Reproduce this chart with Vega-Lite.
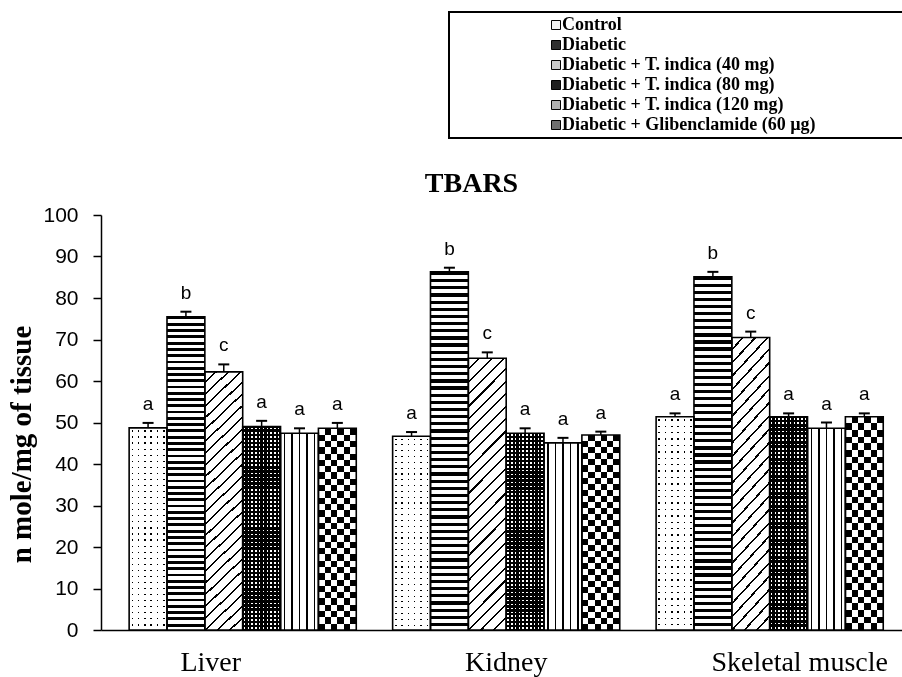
{
  "$schema": "https://vega.github.io/schema/vega-lite/v6.json",
  "width": 801,
  "height": 415,
  "autosize": "none",
  "padding": {"left": 101, "top": 215, "right": 0, "bottom": 47},
  "background": "white",
  "title": {
    "text": "TBARS",
    "font": "Liberation Serif",
    "fontSize": 28,
    "fontWeight": "bold",
    "color": "black",
    "anchor": "middle",
    "frame": "group",
    "offset": 22,
    "baseline": "alphabetic",
    "dx": -30,
    "dy": 231
  },
  "data": {
    "values": [
      {"tissue": "Liver", "group": "Control", "mean": 48.7, "upper": 49.9, "letter": "a"},
      {"tissue": "Liver", "group": "Diabetic", "mean": 75.5, "upper": 76.7, "letter": "b"},
      {"tissue": "Liver", "group": "Diabetic + T. indica (40 mg)", "mean": 62.2, "upper": 64.0, "letter": "c"},
      {"tissue": "Liver", "group": "Diabetic + T. indica (80 mg)", "mean": 49.0, "upper": 50.4, "letter": "a"},
      {"tissue": "Liver", "group": "Diabetic + T. indica (120 mg)", "mean": 47.4, "upper": 48.6, "letter": "a"},
      {"tissue": "Liver", "group": "Diabetic + Glibenclamide (60 µg)", "mean": 48.6, "upper": 49.9, "letter": "a"},
      {"tissue": "Kidney", "group": "Control", "mean": 46.7, "upper": 47.7, "letter": "a"},
      {"tissue": "Kidney", "group": "Diabetic", "mean": 86.3, "upper": 87.3, "letter": "b"},
      {"tissue": "Kidney", "group": "Diabetic + T. indica (40 mg)", "mean": 65.5, "upper": 66.9, "letter": "c"},
      {"tissue": "Kidney", "group": "Diabetic + T. indica (80 mg)", "mean": 47.4, "upper": 48.6, "letter": "a"},
      {"tissue": "Kidney", "group": "Diabetic + T. indica (120 mg)", "mean": 45.1, "upper": 46.3, "letter": "a"},
      {"tissue": "Kidney", "group": "Diabetic + Glibenclamide (60 µg)", "mean": 47.0, "upper": 47.8, "letter": "a"},
      {"tissue": "Skeletal muscle", "group": "Control", "mean": 51.4, "upper": 52.2, "letter": "a"},
      {"tissue": "Skeletal muscle", "group": "Diabetic", "mean": 85.1, "upper": 86.3, "letter": "b"},
      {"tissue": "Skeletal muscle", "group": "Diabetic + T. indica (40 mg)", "mean": 70.5, "upper": 71.9, "letter": "c"},
      {"tissue": "Skeletal muscle", "group": "Diabetic + T. indica (80 mg)", "mean": 51.4, "upper": 52.2, "letter": "a"},
      {"tissue": "Skeletal muscle", "group": "Diabetic + T. indica (120 mg)", "mean": 48.6, "upper": 50.0, "letter": "a"},
      {"tissue": "Skeletal muscle", "group": "Diabetic + Glibenclamide (60 µg)", "mean": 51.4, "upper": 52.2, "letter": "a"}
    ]
  },
  "encoding": {
    "x": {
      "field": "tissue",
      "type": "nominal",
      "sort": ["Liver", "Kidney", "Skeletal muscle"],
      "scale": {"paddingInner": 0.138, "paddingOuter": 0.089, "align": 0.6},
      "axis": {
        "title": null,
        "labelAngle": 0,
        "labelFont": "Liberation Serif",
        "labelFontSize": 28,
        "labelColor": "black",
        "labelBaseline": "top",
        "labelPadding": 18,
        "ticks": false,
        "tickSize": 0,
        "domainColor": "black",
        "domainWidth": 1.5,
        "labelOffset": {
          "condition": [
            {"test": "datum.value === 'Liver'", "value": -32},
            {"test": "datum.value === 'Skeletal muscle'", "value": 30}
          ],
          "value": 0
        }
      }
    },
    "xOffset": {
      "field": "group",
      "type": "nominal",
      "scale": {
        "domain": ["Control", "Diabetic", "Diabetic + T. indica (40 mg)", "Diabetic + T. indica (80 mg)", "Diabetic + T. indica (120 mg)", "Diabetic + Glibenclamide (60 µg)"],
        "paddingInner": 0,
        "paddingOuter": 0
      }
    },
    "y": {
      "field": "mean",
      "type": "quantitative",
      "scale": {"domain": [0, 100]},
      "title": "n mole/mg of tissue",
      "axis": {
        "values": [0, 10, 20, 30, 40, 50, 60, 70, 80, 90, 100],
        "grid": false,
        "domainColor": "black",
        "domainWidth": 1.5,
        "tickColor": "black",
        "tickWidth": 1.5,
        "tickSize": 8,
        "labelFont": "Liberation Sans",
        "labelFontSize": 21,
        "labelColor": "black",
        "labelPadding": 15,
        "titleFont": "Liberation Serif",
        "titleFontSize": 29,
        "titleFontWeight": "bold",
        "titleColor": "black",
        "titleX": -71,
        "titleY": 229,
        "titleBaseline": "alphabetic"
      }
    }
  },
  "layer": [
    {
      "mark": {"type": "bar"},
      "encoding": {
        "color": {
          "field": "group",
          "type": "nominal",
          "scale": {
            "domain": ["Control", "Diabetic", "Diabetic + T. indica (40 mg)", "Diabetic + T. indica (80 mg)", "Diabetic + T. indica (120 mg)", "Diabetic + Glibenclamide (60 µg)"],
            "range": ["#f0f0f0", "#303030", "#c8c8c8", "#202020", "#b0b0b0", "#707070"]
          },
          "legend": {
            "orient": "none",
            "legendX": 348,
            "legendY": -203,
            "direction": "vertical",
            "title": " ",
            "titleOrient": "left",
            "titleFontSize": 1,
            "titlePadding": 94,
            "labelFont": "Liberation Serif",
            "labelFontWeight": "bold",
            "labelFontSize": 18,
            "labelColor": "black",
            "labelLimit": 700,
            "labelOffset": -3,
            "labelExpr": "datum.label + '\u00a0\u00a0\u00a0\u00a0\u00a0\u00a0\u00a0\u00a0\u00a0\u00a0\u00a0\u00a0\u00a0\u00a0\u00a0\u00a0\u00a0\u00a0\u2009\u200b'",
            "symbolType": "square",
            "symbolSize": 81,
            "symbolStrokeColor": "black",
            "symbolStrokeWidth": 1,
            "rowPadding": 2,
            "padding": 4,
            "strokeColor": "black"
          }
        }
      }
    },
    {
      "transform": [{"filter": "datum.group === 'Control'"}],
      "mark": {
        "type": "bar",
        "fill": {
          "gradient": "linear", "x1": 0, "y1": 0, "x2": 1, "y2": 0,
          "stops": [{"offset":0,"color":"#fff"},{"offset":0.063,"color":"#fff"},{"offset":0.063,"color":"#000"},{"offset":0.103,"color":"#000"},{"offset":0.103,"color":"#fff"},{"offset":0.23,"color":"#fff"},{"offset":0.23,"color":"#000"},{"offset":0.27,"color":"#000"},{"offset":0.27,"color":"#fff"},{"offset":0.397,"color":"#fff"},{"offset":0.397,"color":"#000"},{"offset":0.437,"color":"#000"},{"offset":0.437,"color":"#fff"},{"offset":0.563,"color":"#fff"},{"offset":0.563,"color":"#000"},{"offset":0.603,"color":"#000"},{"offset":0.603,"color":"#fff"},{"offset":0.73,"color":"#fff"},{"offset":0.73,"color":"#000"},{"offset":0.77,"color":"#000"},{"offset":0.77,"color":"#fff"},{"offset":0.897,"color":"#fff"},{"offset":0.897,"color":"#000"},{"offset":0.937,"color":"#000"},{"offset":0.937,"color":"#fff"},{"offset":1,"color":"#fff"}]
        }
      }
    },
    {
      "transform": [{"filter": "datum.group === 'Control'"}],
      "mark": {
        "type": "bar",
        "blend": "lighten",
        "fill": {
          "gradient": "linear", "x1": 0, "y1": 0, "x2": 0, "y2": 1,
          "stops": [{"offset":0,"color":"#fff"},
{"offset":0.012,"color":"#fff"},{"offset":0.012,"color":"#000"},{"offset":0.018,"color":"#000"},{"offset":0.018,"color":"#fff"},
{"offset":0.042,"color":"#fff"},{"offset":0.042,"color":"#000"},{"offset":0.048,"color":"#000"},{"offset":0.048,"color":"#fff"},
{"offset":0.072,"color":"#fff"},{"offset":0.072,"color":"#000"},{"offset":0.078,"color":"#000"},{"offset":0.078,"color":"#fff"},
{"offset":0.102,"color":"#fff"},{"offset":0.102,"color":"#000"},{"offset":0.108,"color":"#000"},{"offset":0.108,"color":"#fff"},
{"offset":0.132,"color":"#fff"},{"offset":0.132,"color":"#000"},{"offset":0.138,"color":"#000"},{"offset":0.138,"color":"#fff"},
{"offset":0.162,"color":"#fff"},{"offset":0.162,"color":"#000"},{"offset":0.168,"color":"#000"},{"offset":0.168,"color":"#fff"},
{"offset":0.192,"color":"#fff"},{"offset":0.192,"color":"#000"},{"offset":0.198,"color":"#000"},{"offset":0.198,"color":"#fff"},
{"offset":0.222,"color":"#fff"},{"offset":0.222,"color":"#000"},{"offset":0.228,"color":"#000"},{"offset":0.228,"color":"#fff"},
{"offset":0.252,"color":"#fff"},{"offset":0.252,"color":"#000"},{"offset":0.258,"color":"#000"},{"offset":0.258,"color":"#fff"},
{"offset":0.282,"color":"#fff"},{"offset":0.282,"color":"#000"},{"offset":0.288,"color":"#000"},{"offset":0.288,"color":"#fff"},
{"offset":0.312,"color":"#fff"},{"offset":0.312,"color":"#000"},{"offset":0.318,"color":"#000"},{"offset":0.318,"color":"#fff"},
{"offset":0.342,"color":"#fff"},{"offset":0.342,"color":"#000"},{"offset":0.348,"color":"#000"},{"offset":0.348,"color":"#fff"},
{"offset":0.372,"color":"#fff"},{"offset":0.372,"color":"#000"},{"offset":0.378,"color":"#000"},{"offset":0.378,"color":"#fff"},
{"offset":0.402,"color":"#fff"},{"offset":0.402,"color":"#000"},{"offset":0.408,"color":"#000"},{"offset":0.408,"color":"#fff"},
{"offset":0.432,"color":"#fff"},{"offset":0.432,"color":"#000"},{"offset":0.438,"color":"#000"},{"offset":0.438,"color":"#fff"},
{"offset":0.462,"color":"#fff"},{"offset":0.462,"color":"#000"},{"offset":0.468,"color":"#000"},{"offset":0.468,"color":"#fff"},
{"offset":0.492,"color":"#fff"},{"offset":0.492,"color":"#000"},{"offset":0.498,"color":"#000"},{"offset":0.498,"color":"#fff"},
{"offset":0.522,"color":"#fff"},{"offset":0.522,"color":"#000"},{"offset":0.528,"color":"#000"},{"offset":0.528,"color":"#fff"},
{"offset":0.552,"color":"#fff"},{"offset":0.552,"color":"#000"},{"offset":0.558,"color":"#000"},{"offset":0.558,"color":"#fff"},
{"offset":0.582,"color":"#fff"},{"offset":0.582,"color":"#000"},{"offset":0.588,"color":"#000"},{"offset":0.588,"color":"#fff"},
{"offset":0.612,"color":"#fff"},{"offset":0.612,"color":"#000"},{"offset":0.618,"color":"#000"},{"offset":0.618,"color":"#fff"},
{"offset":0.642,"color":"#fff"},{"offset":0.642,"color":"#000"},{"offset":0.648,"color":"#000"},{"offset":0.648,"color":"#fff"},
{"offset":0.672,"color":"#fff"},{"offset":0.672,"color":"#000"},{"offset":0.678,"color":"#000"},{"offset":0.678,"color":"#fff"},
{"offset":0.702,"color":"#fff"},{"offset":0.702,"color":"#000"},{"offset":0.708,"color":"#000"},{"offset":0.708,"color":"#fff"},
{"offset":0.732,"color":"#fff"},{"offset":0.732,"color":"#000"},{"offset":0.738,"color":"#000"},{"offset":0.738,"color":"#fff"},
{"offset":0.762,"color":"#fff"},{"offset":0.762,"color":"#000"},{"offset":0.768,"color":"#000"},{"offset":0.768,"color":"#fff"},
{"offset":0.792,"color":"#fff"},{"offset":0.792,"color":"#000"},{"offset":0.798,"color":"#000"},{"offset":0.798,"color":"#fff"},
{"offset":0.822,"color":"#fff"},{"offset":0.822,"color":"#000"},{"offset":0.828,"color":"#000"},{"offset":0.828,"color":"#fff"},
{"offset":0.852,"color":"#fff"},{"offset":0.852,"color":"#000"},{"offset":0.858,"color":"#000"},{"offset":0.858,"color":"#fff"},
{"offset":0.882,"color":"#fff"},{"offset":0.882,"color":"#000"},{"offset":0.888,"color":"#000"},{"offset":0.888,"color":"#fff"},
{"offset":0.912,"color":"#fff"},{"offset":0.912,"color":"#000"},{"offset":0.918,"color":"#000"},{"offset":0.918,"color":"#fff"},
{"offset":0.942,"color":"#fff"},{"offset":0.942,"color":"#000"},{"offset":0.948,"color":"#000"},{"offset":0.948,"color":"#fff"},
{"offset":0.972,"color":"#fff"},{"offset":0.972,"color":"#000"},{"offset":0.978,"color":"#000"},{"offset":0.978,"color":"#fff"},
{"offset":1,"color":"#fff"}]
        }
      }
    },
    {
      "transform": [{"filter": "datum.group === 'Diabetic'"}],
      "mark": {
        "type": "bar",
        "fill": {
          "gradient": "linear", "x1": 0, "y1": 0, "x2": 0, "y2": 1,
          "stops": [
{"offset":0,"color":"#000"},{"offset":0.009,"color":"#000"},{"offset":0.009,"color":"#fff"},{"offset":0.02,"color":"#fff"},
{"offset":0.02,"color":"#000"},{"offset":0.029,"color":"#000"},{"offset":0.029,"color":"#fff"},{"offset":0.04,"color":"#fff"},
{"offset":0.04,"color":"#000"},{"offset":0.049,"color":"#000"},{"offset":0.049,"color":"#fff"},{"offset":0.06,"color":"#fff"},
{"offset":0.06,"color":"#000"},{"offset":0.069,"color":"#000"},{"offset":0.069,"color":"#fff"},{"offset":0.08,"color":"#fff"},
{"offset":0.08,"color":"#000"},{"offset":0.089,"color":"#000"},{"offset":0.089,"color":"#fff"},{"offset":0.1,"color":"#fff"},
{"offset":0.1,"color":"#000"},{"offset":0.109,"color":"#000"},{"offset":0.109,"color":"#fff"},{"offset":0.12,"color":"#fff"},
{"offset":0.12,"color":"#000"},{"offset":0.129,"color":"#000"},{"offset":0.129,"color":"#fff"},{"offset":0.14,"color":"#fff"},
{"offset":0.14,"color":"#000"},{"offset":0.149,"color":"#000"},{"offset":0.149,"color":"#fff"},{"offset":0.16,"color":"#fff"},
{"offset":0.16,"color":"#000"},{"offset":0.169,"color":"#000"},{"offset":0.169,"color":"#fff"},{"offset":0.18,"color":"#fff"},
{"offset":0.18,"color":"#000"},{"offset":0.189,"color":"#000"},{"offset":0.189,"color":"#fff"},{"offset":0.2,"color":"#fff"},
{"offset":0.2,"color":"#000"},{"offset":0.209,"color":"#000"},{"offset":0.209,"color":"#fff"},{"offset":0.22,"color":"#fff"},
{"offset":0.22,"color":"#000"},{"offset":0.229,"color":"#000"},{"offset":0.229,"color":"#fff"},{"offset":0.24,"color":"#fff"},
{"offset":0.24,"color":"#000"},{"offset":0.249,"color":"#000"},{"offset":0.249,"color":"#fff"},{"offset":0.26,"color":"#fff"},
{"offset":0.26,"color":"#000"},{"offset":0.269,"color":"#000"},{"offset":0.269,"color":"#fff"},{"offset":0.28,"color":"#fff"},
{"offset":0.28,"color":"#000"},{"offset":0.289,"color":"#000"},{"offset":0.289,"color":"#fff"},{"offset":0.3,"color":"#fff"},
{"offset":0.3,"color":"#000"},{"offset":0.309,"color":"#000"},{"offset":0.309,"color":"#fff"},{"offset":0.32,"color":"#fff"},
{"offset":0.32,"color":"#000"},{"offset":0.329,"color":"#000"},{"offset":0.329,"color":"#fff"},{"offset":0.34,"color":"#fff"},
{"offset":0.34,"color":"#000"},{"offset":0.349,"color":"#000"},{"offset":0.349,"color":"#fff"},{"offset":0.36,"color":"#fff"},
{"offset":0.36,"color":"#000"},{"offset":0.369,"color":"#000"},{"offset":0.369,"color":"#fff"},{"offset":0.38,"color":"#fff"},
{"offset":0.38,"color":"#000"},{"offset":0.389,"color":"#000"},{"offset":0.389,"color":"#fff"},{"offset":0.4,"color":"#fff"},
{"offset":0.4,"color":"#000"},{"offset":0.409,"color":"#000"},{"offset":0.409,"color":"#fff"},{"offset":0.42,"color":"#fff"},
{"offset":0.42,"color":"#000"},{"offset":0.429,"color":"#000"},{"offset":0.429,"color":"#fff"},{"offset":0.44,"color":"#fff"},
{"offset":0.44,"color":"#000"},{"offset":0.449,"color":"#000"},{"offset":0.449,"color":"#fff"},{"offset":0.46,"color":"#fff"},
{"offset":0.46,"color":"#000"},{"offset":0.469,"color":"#000"},{"offset":0.469,"color":"#fff"},{"offset":0.48,"color":"#fff"},
{"offset":0.48,"color":"#000"},{"offset":0.489,"color":"#000"},{"offset":0.489,"color":"#fff"},{"offset":0.5,"color":"#fff"},
{"offset":0.5,"color":"#000"},{"offset":0.509,"color":"#000"},{"offset":0.509,"color":"#fff"},{"offset":0.52,"color":"#fff"},
{"offset":0.52,"color":"#000"},{"offset":0.529,"color":"#000"},{"offset":0.529,"color":"#fff"},{"offset":0.54,"color":"#fff"},
{"offset":0.54,"color":"#000"},{"offset":0.549,"color":"#000"},{"offset":0.549,"color":"#fff"},{"offset":0.56,"color":"#fff"},
{"offset":0.56,"color":"#000"},{"offset":0.569,"color":"#000"},{"offset":0.569,"color":"#fff"},{"offset":0.58,"color":"#fff"},
{"offset":0.58,"color":"#000"},{"offset":0.589,"color":"#000"},{"offset":0.589,"color":"#fff"},{"offset":0.6,"color":"#fff"},
{"offset":0.6,"color":"#000"},{"offset":0.609,"color":"#000"},{"offset":0.609,"color":"#fff"},{"offset":0.62,"color":"#fff"},
{"offset":0.62,"color":"#000"},{"offset":0.629,"color":"#000"},{"offset":0.629,"color":"#fff"},{"offset":0.64,"color":"#fff"},
{"offset":0.64,"color":"#000"},{"offset":0.649,"color":"#000"},{"offset":0.649,"color":"#fff"},{"offset":0.66,"color":"#fff"},
{"offset":0.66,"color":"#000"},{"offset":0.669,"color":"#000"},{"offset":0.669,"color":"#fff"},{"offset":0.68,"color":"#fff"},
{"offset":0.68,"color":"#000"},{"offset":0.689,"color":"#000"},{"offset":0.689,"color":"#fff"},{"offset":0.7,"color":"#fff"},
{"offset":0.7,"color":"#000"},{"offset":0.709,"color":"#000"},{"offset":0.709,"color":"#fff"},{"offset":0.72,"color":"#fff"},
{"offset":0.72,"color":"#000"},{"offset":0.729,"color":"#000"},{"offset":0.729,"color":"#fff"},{"offset":0.74,"color":"#fff"},
{"offset":0.74,"color":"#000"},{"offset":0.749,"color":"#000"},{"offset":0.749,"color":"#fff"},{"offset":0.76,"color":"#fff"},
{"offset":0.76,"color":"#000"},{"offset":0.769,"color":"#000"},{"offset":0.769,"color":"#fff"},{"offset":0.78,"color":"#fff"},
{"offset":0.78,"color":"#000"},{"offset":0.789,"color":"#000"},{"offset":0.789,"color":"#fff"},{"offset":0.8,"color":"#fff"},
{"offset":0.8,"color":"#000"},{"offset":0.809,"color":"#000"},{"offset":0.809,"color":"#fff"},{"offset":0.82,"color":"#fff"},
{"offset":0.82,"color":"#000"},{"offset":0.829,"color":"#000"},{"offset":0.829,"color":"#fff"},{"offset":0.84,"color":"#fff"},
{"offset":0.84,"color":"#000"},{"offset":0.849,"color":"#000"},{"offset":0.849,"color":"#fff"},{"offset":0.86,"color":"#fff"},
{"offset":0.86,"color":"#000"},{"offset":0.869,"color":"#000"},{"offset":0.869,"color":"#fff"},{"offset":0.88,"color":"#fff"},
{"offset":0.88,"color":"#000"},{"offset":0.889,"color":"#000"},{"offset":0.889,"color":"#fff"},{"offset":0.9,"color":"#fff"},
{"offset":0.9,"color":"#000"},{"offset":0.909,"color":"#000"},{"offset":0.909,"color":"#fff"},{"offset":0.92,"color":"#fff"},
{"offset":0.92,"color":"#000"},{"offset":0.929,"color":"#000"},{"offset":0.929,"color":"#fff"},{"offset":0.94,"color":"#fff"},
{"offset":0.94,"color":"#000"},{"offset":0.949,"color":"#000"},{"offset":0.949,"color":"#fff"},{"offset":0.96,"color":"#fff"},
{"offset":0.96,"color":"#000"},{"offset":0.969,"color":"#000"},{"offset":0.969,"color":"#fff"},{"offset":0.98,"color":"#fff"},
{"offset":0.98,"color":"#000"},{"offset":0.989,"color":"#000"},{"offset":0.989,"color":"#fff"},{"offset":1,"color":"#fff"}]
        }
      }
    },
    {
      "transform": [{"filter": "datum.group === 'Diabetic + T. indica (40 mg)'"}],
      "mark": {
        "type": "bar",
        "fill": {
          "gradient": "linear", "x1": 0, "y1": 0, "x2": 0.157, "y2": 1.12,
          "stops": [
{"offset":0,"color":"#fff"},{"offset":0.033,"color":"#fff"},{"offset":0.033,"color":"#000"},{"offset":0.04,"color":"#000"},
{"offset":0.04,"color":"#fff"},{"offset":0.073,"color":"#fff"},{"offset":0.073,"color":"#000"},{"offset":0.08,"color":"#000"},
{"offset":0.08,"color":"#fff"},{"offset":0.113,"color":"#fff"},{"offset":0.113,"color":"#000"},{"offset":0.12,"color":"#000"},
{"offset":0.12,"color":"#fff"},{"offset":0.153,"color":"#fff"},{"offset":0.153,"color":"#000"},{"offset":0.16,"color":"#000"},
{"offset":0.16,"color":"#fff"},{"offset":0.193,"color":"#fff"},{"offset":0.193,"color":"#000"},{"offset":0.2,"color":"#000"},
{"offset":0.2,"color":"#fff"},{"offset":0.233,"color":"#fff"},{"offset":0.233,"color":"#000"},{"offset":0.24,"color":"#000"},
{"offset":0.24,"color":"#fff"},{"offset":0.273,"color":"#fff"},{"offset":0.273,"color":"#000"},{"offset":0.28,"color":"#000"},
{"offset":0.28,"color":"#fff"},{"offset":0.313,"color":"#fff"},{"offset":0.313,"color":"#000"},{"offset":0.32,"color":"#000"},
{"offset":0.32,"color":"#fff"},{"offset":0.353,"color":"#fff"},{"offset":0.353,"color":"#000"},{"offset":0.36,"color":"#000"},
{"offset":0.36,"color":"#fff"},{"offset":0.393,"color":"#fff"},{"offset":0.393,"color":"#000"},{"offset":0.4,"color":"#000"},
{"offset":0.4,"color":"#fff"},{"offset":0.433,"color":"#fff"},{"offset":0.433,"color":"#000"},{"offset":0.44,"color":"#000"},
{"offset":0.44,"color":"#fff"},{"offset":0.473,"color":"#fff"},{"offset":0.473,"color":"#000"},{"offset":0.48,"color":"#000"},
{"offset":0.48,"color":"#fff"},{"offset":0.513,"color":"#fff"},{"offset":0.513,"color":"#000"},{"offset":0.52,"color":"#000"},
{"offset":0.52,"color":"#fff"},{"offset":0.553,"color":"#fff"},{"offset":0.553,"color":"#000"},{"offset":0.56,"color":"#000"},
{"offset":0.56,"color":"#fff"},{"offset":0.593,"color":"#fff"},{"offset":0.593,"color":"#000"},{"offset":0.6,"color":"#000"},
{"offset":0.6,"color":"#fff"},{"offset":0.633,"color":"#fff"},{"offset":0.633,"color":"#000"},{"offset":0.64,"color":"#000"},
{"offset":0.64,"color":"#fff"},{"offset":0.673,"color":"#fff"},{"offset":0.673,"color":"#000"},{"offset":0.68,"color":"#000"},
{"offset":0.68,"color":"#fff"},{"offset":0.713,"color":"#fff"},{"offset":0.713,"color":"#000"},{"offset":0.72,"color":"#000"},
{"offset":0.72,"color":"#fff"},{"offset":0.753,"color":"#fff"},{"offset":0.753,"color":"#000"},{"offset":0.76,"color":"#000"},
{"offset":0.76,"color":"#fff"},{"offset":0.793,"color":"#fff"},{"offset":0.793,"color":"#000"},{"offset":0.8,"color":"#000"},
{"offset":0.8,"color":"#fff"},{"offset":0.833,"color":"#fff"},{"offset":0.833,"color":"#000"},{"offset":0.84,"color":"#000"},
{"offset":0.84,"color":"#fff"},{"offset":0.873,"color":"#fff"},{"offset":0.873,"color":"#000"},{"offset":0.88,"color":"#000"},
{"offset":0.88,"color":"#fff"},{"offset":0.913,"color":"#fff"},{"offset":0.913,"color":"#000"},{"offset":0.92,"color":"#000"},
{"offset":0.92,"color":"#fff"},{"offset":0.953,"color":"#fff"},{"offset":0.953,"color":"#000"},{"offset":0.96,"color":"#000"},
{"offset":0.96,"color":"#fff"},{"offset":0.993,"color":"#fff"},{"offset":0.993,"color":"#000"},{"offset":1,"color":"#000"}]
        }
      }
    },
    {
      "transform": [{"filter": "datum.group === 'Diabetic + T. indica (80 mg)'"}],
      "mark": {
        "type": "bar",
        "fill": {
          "gradient": "linear", "x1": 0, "y1": 0, "x2": 1, "y2": 0,
          "stops": [{"offset":0,"color":"#000"},
{"offset":0.03,"color":"#000"},{"offset":0.03,"color":"#fff"},{"offset":0.07,"color":"#fff"},{"offset":0.07,"color":"#000"},
{"offset":0.13,"color":"#000"},{"offset":0.13,"color":"#fff"},{"offset":0.17,"color":"#fff"},{"offset":0.17,"color":"#000"},
{"offset":0.23,"color":"#000"},{"offset":0.23,"color":"#fff"},{"offset":0.27,"color":"#fff"},{"offset":0.27,"color":"#000"},
{"offset":0.33,"color":"#000"},{"offset":0.33,"color":"#fff"},{"offset":0.37,"color":"#fff"},{"offset":0.37,"color":"#000"},
{"offset":0.43,"color":"#000"},{"offset":0.43,"color":"#fff"},{"offset":0.47,"color":"#fff"},{"offset":0.47,"color":"#000"},
{"offset":0.53,"color":"#000"},{"offset":0.53,"color":"#fff"},{"offset":0.57,"color":"#fff"},{"offset":0.57,"color":"#000"},
{"offset":0.63,"color":"#000"},{"offset":0.63,"color":"#fff"},{"offset":0.67,"color":"#fff"},{"offset":0.67,"color":"#000"},
{"offset":0.73,"color":"#000"},{"offset":0.73,"color":"#fff"},{"offset":0.77,"color":"#fff"},{"offset":0.77,"color":"#000"},
{"offset":0.83,"color":"#000"},{"offset":0.83,"color":"#fff"},{"offset":0.87,"color":"#fff"},{"offset":0.87,"color":"#000"},
{"offset":0.93,"color":"#000"},{"offset":0.93,"color":"#fff"},{"offset":0.97,"color":"#fff"},{"offset":0.97,"color":"#000"},
{"offset":1,"color":"#000"}]
        }
      }
    },
    {
      "transform": [{"filter": "datum.group === 'Diabetic + T. indica (80 mg)'"}],
      "mark": {
        "type": "bar",
        "blend": "darken",
        "fill": {
          "gradient": "linear", "x1": 0, "y1": 0, "x2": 0, "y2": 1,
          "stops": [{"offset":0,"color":"#000"},
{"offset":0.006,"color":"#000"},{"offset":0.006,"color":"#fff"},{"offset":0.014,"color":"#fff"},{"offset":0.014,"color":"#000"},
{"offset":0.026,"color":"#000"},{"offset":0.026,"color":"#fff"},{"offset":0.034,"color":"#fff"},{"offset":0.034,"color":"#000"},
{"offset":0.046,"color":"#000"},{"offset":0.046,"color":"#fff"},{"offset":0.054,"color":"#fff"},{"offset":0.054,"color":"#000"},
{"offset":0.066,"color":"#000"},{"offset":0.066,"color":"#fff"},{"offset":0.074,"color":"#fff"},{"offset":0.074,"color":"#000"},
{"offset":0.086,"color":"#000"},{"offset":0.086,"color":"#fff"},{"offset":0.094,"color":"#fff"},{"offset":0.094,"color":"#000"},
{"offset":0.106,"color":"#000"},{"offset":0.106,"color":"#fff"},{"offset":0.114,"color":"#fff"},{"offset":0.114,"color":"#000"},
{"offset":0.126,"color":"#000"},{"offset":0.126,"color":"#fff"},{"offset":0.134,"color":"#fff"},{"offset":0.134,"color":"#000"},
{"offset":0.146,"color":"#000"},{"offset":0.146,"color":"#fff"},{"offset":0.154,"color":"#fff"},{"offset":0.154,"color":"#000"},
{"offset":0.166,"color":"#000"},{"offset":0.166,"color":"#fff"},{"offset":0.174,"color":"#fff"},{"offset":0.174,"color":"#000"},
{"offset":0.186,"color":"#000"},{"offset":0.186,"color":"#fff"},{"offset":0.194,"color":"#fff"},{"offset":0.194,"color":"#000"},
{"offset":0.206,"color":"#000"},{"offset":0.206,"color":"#fff"},{"offset":0.214,"color":"#fff"},{"offset":0.214,"color":"#000"},
{"offset":0.226,"color":"#000"},{"offset":0.226,"color":"#fff"},{"offset":0.234,"color":"#fff"},{"offset":0.234,"color":"#000"},
{"offset":0.246,"color":"#000"},{"offset":0.246,"color":"#fff"},{"offset":0.254,"color":"#fff"},{"offset":0.254,"color":"#000"},
{"offset":0.266,"color":"#000"},{"offset":0.266,"color":"#fff"},{"offset":0.274,"color":"#fff"},{"offset":0.274,"color":"#000"},
{"offset":0.286,"color":"#000"},{"offset":0.286,"color":"#fff"},{"offset":0.294,"color":"#fff"},{"offset":0.294,"color":"#000"},
{"offset":0.306,"color":"#000"},{"offset":0.306,"color":"#fff"},{"offset":0.314,"color":"#fff"},{"offset":0.314,"color":"#000"},
{"offset":0.326,"color":"#000"},{"offset":0.326,"color":"#fff"},{"offset":0.334,"color":"#fff"},{"offset":0.334,"color":"#000"},
{"offset":0.346,"color":"#000"},{"offset":0.346,"color":"#fff"},{"offset":0.354,"color":"#fff"},{"offset":0.354,"color":"#000"},
{"offset":0.366,"color":"#000"},{"offset":0.366,"color":"#fff"},{"offset":0.374,"color":"#fff"},{"offset":0.374,"color":"#000"},
{"offset":0.386,"color":"#000"},{"offset":0.386,"color":"#fff"},{"offset":0.394,"color":"#fff"},{"offset":0.394,"color":"#000"},
{"offset":0.406,"color":"#000"},{"offset":0.406,"color":"#fff"},{"offset":0.414,"color":"#fff"},{"offset":0.414,"color":"#000"},
{"offset":0.426,"color":"#000"},{"offset":0.426,"color":"#fff"},{"offset":0.434,"color":"#fff"},{"offset":0.434,"color":"#000"},
{"offset":0.446,"color":"#000"},{"offset":0.446,"color":"#fff"},{"offset":0.454,"color":"#fff"},{"offset":0.454,"color":"#000"},
{"offset":0.466,"color":"#000"},{"offset":0.466,"color":"#fff"},{"offset":0.474,"color":"#fff"},{"offset":0.474,"color":"#000"},
{"offset":0.486,"color":"#000"},{"offset":0.486,"color":"#fff"},{"offset":0.494,"color":"#fff"},{"offset":0.494,"color":"#000"},
{"offset":0.506,"color":"#000"},{"offset":0.506,"color":"#fff"},{"offset":0.514,"color":"#fff"},{"offset":0.514,"color":"#000"},
{"offset":0.526,"color":"#000"},{"offset":0.526,"color":"#fff"},{"offset":0.534,"color":"#fff"},{"offset":0.534,"color":"#000"},
{"offset":0.546,"color":"#000"},{"offset":0.546,"color":"#fff"},{"offset":0.554,"color":"#fff"},{"offset":0.554,"color":"#000"},
{"offset":0.566,"color":"#000"},{"offset":0.566,"color":"#fff"},{"offset":0.574,"color":"#fff"},{"offset":0.574,"color":"#000"},
{"offset":0.586,"color":"#000"},{"offset":0.586,"color":"#fff"},{"offset":0.594,"color":"#fff"},{"offset":0.594,"color":"#000"},
{"offset":0.606,"color":"#000"},{"offset":0.606,"color":"#fff"},{"offset":0.614,"color":"#fff"},{"offset":0.614,"color":"#000"},
{"offset":0.626,"color":"#000"},{"offset":0.626,"color":"#fff"},{"offset":0.634,"color":"#fff"},{"offset":0.634,"color":"#000"},
{"offset":0.646,"color":"#000"},{"offset":0.646,"color":"#fff"},{"offset":0.654,"color":"#fff"},{"offset":0.654,"color":"#000"},
{"offset":0.666,"color":"#000"},{"offset":0.666,"color":"#fff"},{"offset":0.674,"color":"#fff"},{"offset":0.674,"color":"#000"},
{"offset":0.686,"color":"#000"},{"offset":0.686,"color":"#fff"},{"offset":0.694,"color":"#fff"},{"offset":0.694,"color":"#000"},
{"offset":0.706,"color":"#000"},{"offset":0.706,"color":"#fff"},{"offset":0.714,"color":"#fff"},{"offset":0.714,"color":"#000"},
{"offset":0.726,"color":"#000"},{"offset":0.726,"color":"#fff"},{"offset":0.734,"color":"#fff"},{"offset":0.734,"color":"#000"},
{"offset":0.746,"color":"#000"},{"offset":0.746,"color":"#fff"},{"offset":0.754,"color":"#fff"},{"offset":0.754,"color":"#000"},
{"offset":0.766,"color":"#000"},{"offset":0.766,"color":"#fff"},{"offset":0.774,"color":"#fff"},{"offset":0.774,"color":"#000"},
{"offset":0.786,"color":"#000"},{"offset":0.786,"color":"#fff"},{"offset":0.794,"color":"#fff"},{"offset":0.794,"color":"#000"},
{"offset":0.806,"color":"#000"},{"offset":0.806,"color":"#fff"},{"offset":0.814,"color":"#fff"},{"offset":0.814,"color":"#000"},
{"offset":0.826,"color":"#000"},{"offset":0.826,"color":"#fff"},{"offset":0.834,"color":"#fff"},{"offset":0.834,"color":"#000"},
{"offset":0.846,"color":"#000"},{"offset":0.846,"color":"#fff"},{"offset":0.854,"color":"#fff"},{"offset":0.854,"color":"#000"},
{"offset":0.866,"color":"#000"},{"offset":0.866,"color":"#fff"},{"offset":0.874,"color":"#fff"},{"offset":0.874,"color":"#000"},
{"offset":0.886,"color":"#000"},{"offset":0.886,"color":"#fff"},{"offset":0.894,"color":"#fff"},{"offset":0.894,"color":"#000"},
{"offset":0.906,"color":"#000"},{"offset":0.906,"color":"#fff"},{"offset":0.914,"color":"#fff"},{"offset":0.914,"color":"#000"},
{"offset":0.926,"color":"#000"},{"offset":0.926,"color":"#fff"},{"offset":0.934,"color":"#fff"},{"offset":0.934,"color":"#000"},
{"offset":0.946,"color":"#000"},{"offset":0.946,"color":"#fff"},{"offset":0.954,"color":"#fff"},{"offset":0.954,"color":"#000"},
{"offset":0.966,"color":"#000"},{"offset":0.966,"color":"#fff"},{"offset":0.974,"color":"#fff"},{"offset":0.974,"color":"#000"},
{"offset":0.986,"color":"#000"},{"offset":0.986,"color":"#fff"},{"offset":0.994,"color":"#fff"},{"offset":0.994,"color":"#000"},
{"offset":1,"color":"#000"}]
        }
      }
    },
    {
      "transform": [{"filter": "datum.group === 'Diabetic + T. indica (120 mg)'"}],
      "mark": {
        "type": "bar",
        "fill": {
          "gradient": "linear", "x1": 0, "y1": 0, "x2": 1, "y2": 0,
          "stops": [{"offset":0,"color":"#fff"},{"offset":0.08,"color":"#fff"},{"offset":0.08,"color":"#000"},{"offset":0.12,"color":"#000"},{"offset":0.12,"color":"#fff"},{"offset":0.28,"color":"#fff"},{"offset":0.28,"color":"#000"},{"offset":0.32,"color":"#000"},{"offset":0.32,"color":"#fff"},{"offset":0.48,"color":"#fff"},{"offset":0.48,"color":"#000"},{"offset":0.52,"color":"#000"},{"offset":0.52,"color":"#fff"},{"offset":0.68,"color":"#fff"},{"offset":0.68,"color":"#000"},{"offset":0.72,"color":"#000"},{"offset":0.72,"color":"#fff"},{"offset":0.88,"color":"#fff"},{"offset":0.88,"color":"#000"},{"offset":0.92,"color":"#000"},{"offset":0.92,"color":"#fff"},{"offset":1,"color":"#fff"}]
        }
      }
    },
    {
      "transform": [{"filter": "datum.group === 'Diabetic + Glibenclamide (60 µg)'"}],
      "mark": {
        "type": "bar",
        "fill": {
          "gradient": "linear", "x1": 0, "y1": 0, "x2": 1, "y2": 0,
          "stops": [{"offset":0,"color":"#000"},{"offset":0.1667,"color":"#000"},{"offset":0.1667,"color":"#fff"},{"offset":0.3333,"color":"#fff"},{"offset":0.3333,"color":"#000"},{"offset":0.5,"color":"#000"},{"offset":0.5,"color":"#fff"},{"offset":0.6667,"color":"#fff"},{"offset":0.6667,"color":"#000"},{"offset":0.8333,"color":"#000"},{"offset":0.8333,"color":"#fff"},{"offset":1,"color":"#fff"}]
        }
      }
    },
    {
      "transform": [{"filter": "datum.group === 'Diabetic + Glibenclamide (60 µg)'"}],
      "mark": {
        "type": "bar",
        "blend": "difference",
        "fill": {
          "gradient": "linear", "x1": 0, "y1": 0, "x2": 0, "y2": 1,
          "stops": [
{"offset":0,"color":"#fff"},{"offset":0.03125,"color":"#fff"},{"offset":0.03125,"color":"#000"},{"offset":0.0625,"color":"#000"},
{"offset":0.0625,"color":"#fff"},{"offset":0.09375,"color":"#fff"},{"offset":0.09375,"color":"#000"},{"offset":0.125,"color":"#000"},
{"offset":0.125,"color":"#fff"},{"offset":0.15625,"color":"#fff"},{"offset":0.15625,"color":"#000"},{"offset":0.1875,"color":"#000"},
{"offset":0.1875,"color":"#fff"},{"offset":0.21875,"color":"#fff"},{"offset":0.21875,"color":"#000"},{"offset":0.25,"color":"#000"},
{"offset":0.25,"color":"#fff"},{"offset":0.28125,"color":"#fff"},{"offset":0.28125,"color":"#000"},{"offset":0.3125,"color":"#000"},
{"offset":0.3125,"color":"#fff"},{"offset":0.34375,"color":"#fff"},{"offset":0.34375,"color":"#000"},{"offset":0.375,"color":"#000"},
{"offset":0.375,"color":"#fff"},{"offset":0.40625,"color":"#fff"},{"offset":0.40625,"color":"#000"},{"offset":0.4375,"color":"#000"},
{"offset":0.4375,"color":"#fff"},{"offset":0.46875,"color":"#fff"},{"offset":0.46875,"color":"#000"},{"offset":0.5,"color":"#000"},
{"offset":0.5,"color":"#fff"},{"offset":0.53125,"color":"#fff"},{"offset":0.53125,"color":"#000"},{"offset":0.5625,"color":"#000"},
{"offset":0.5625,"color":"#fff"},{"offset":0.59375,"color":"#fff"},{"offset":0.59375,"color":"#000"},{"offset":0.625,"color":"#000"},
{"offset":0.625,"color":"#fff"},{"offset":0.65625,"color":"#fff"},{"offset":0.65625,"color":"#000"},{"offset":0.6875,"color":"#000"},
{"offset":0.6875,"color":"#fff"},{"offset":0.71875,"color":"#fff"},{"offset":0.71875,"color":"#000"},{"offset":0.75,"color":"#000"},
{"offset":0.75,"color":"#fff"},{"offset":0.78125,"color":"#fff"},{"offset":0.78125,"color":"#000"},{"offset":0.8125,"color":"#000"},
{"offset":0.8125,"color":"#fff"},{"offset":0.84375,"color":"#fff"},{"offset":0.84375,"color":"#000"},{"offset":0.875,"color":"#000"},
{"offset":0.875,"color":"#fff"},{"offset":0.90625,"color":"#fff"},{"offset":0.90625,"color":"#000"},{"offset":0.9375,"color":"#000"},
{"offset":0.9375,"color":"#fff"},{"offset":0.96875,"color":"#fff"},{"offset":0.96875,"color":"#000"},{"offset":1,"color":"#000"}]
        }
      }
    },
    {
      "mark": {"type": "bar", "filled": false, "stroke": "black", "strokeWidth": 1.6}
    },
    {
      "mark": {"type": "rule", "color": "black", "strokeWidth": 1.5},
      "encoding": {
        "y": {"field": "mean", "type": "quantitative", "scale": {"domain": [0, 100]}, "title": "n mole/mg of tissue"},
        "y2": {"field": "upper"}
      }
    },
    {
      "mark": {"type": "tick", "color": "black", "thickness": 2, "size": 11, "opacity": 1},
      "encoding": {
        "y": {"field": "upper", "type": "quantitative", "scale": {"domain": [0, 100]}, "title": "n mole/mg of tissue"}
      }
    },
    {
      "mark": {"type": "text", "font": "Liberation Sans", "fontSize": 19, "baseline": "alphabetic", "dy": -13, "color": "black"},
      "encoding": {
        "y": {"field": "upper", "type": "quantitative", "scale": {"domain": [0, 100]}, "title": "n mole/mg of tissue"},
        "text": {"field": "letter", "type": "nominal"}
      }
    }
  ],
  "config": {
    "view": {"stroke": null},
    "legend": {"strokeWidth": 2}
  }
}
